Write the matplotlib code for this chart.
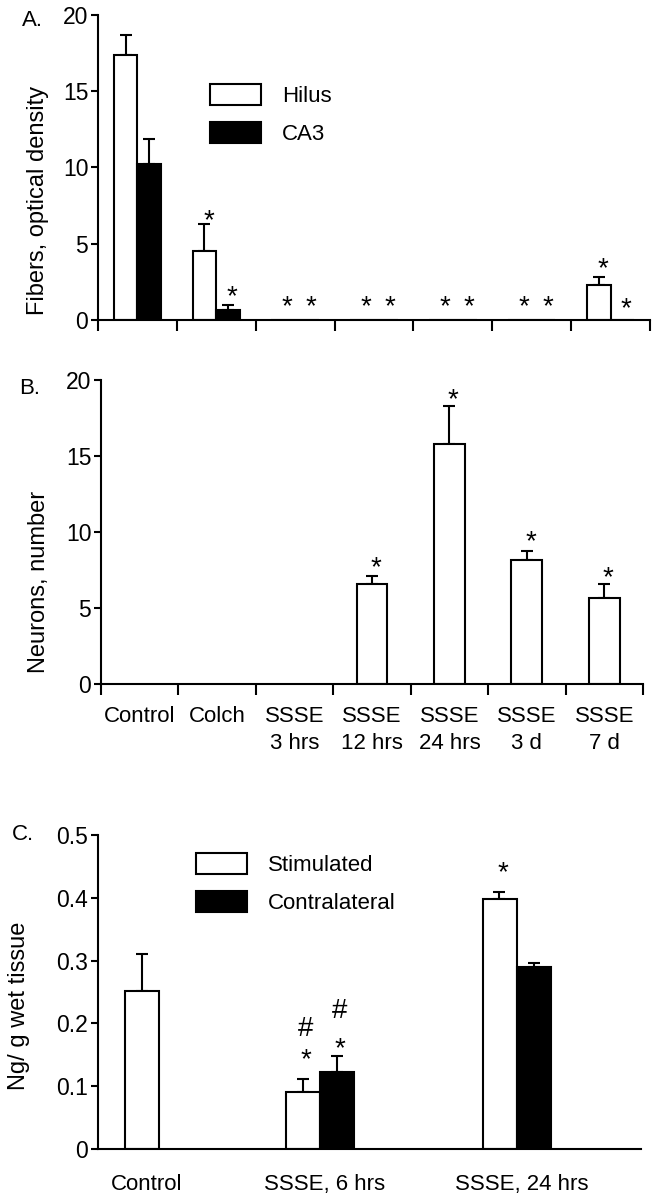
import numpy as np
import matplotlib
matplotlib.use("Agg")
import matplotlib.pyplot as plt

plt.rcParams['font.family'] = ['Liberation Sans', 'DejaVu Sans']
plt.rcParams['font.size'] = 16
plt.rcParams['axes.linewidth'] = 1.5
plt.rcParams['xtick.major.width'] = 1.5
plt.rcParams['ytick.major.width'] = 1.5
plt.rcParams['ytick.labelsize'] = 16.5

# panel A: fibers, optical density
groups_ab = ['Control', 'Colch', 'SSSE\n3 hrs', 'SSSE\n12 hrs', 'SSSE\n24 hrs', 'SSSE\n3 d', 'SSSE\n7 d']
hilus = [17.4, 4.5, 0, 0, 0, 0, 2.3]
hilus_err = [1.3, 1.8, 0, 0, 0, 0, 0.5]
ca3 = [10.2, 0.65, 0, 0, 0, 0, 0]
ca3_err = [1.7, 0.35, 0, 0, 0, 0, 0]
hilus_star = [np.nan, 7.1, 1.45, 1.45, 1.45, 1.45, 3.9]
ca3_star = [np.nan, 2.1, 1.45, 1.45, 1.45, 1.45, 1.3]

# panel B: neurons, number
neurons = [0, 0, 0, 6.6, 15.8, 8.15, 5.65]
neurons_err = [0, 0, 0, 0.5, 2.5, 0.6, 0.95]
neurons_star = [np.nan, np.nan, np.nan, 8.2, 19.3, 9.9, 7.55]

# panel C: ng/g wet tissue
groups_c = ['Control', 'SSSE, 6 hrs', 'SSSE, 24 hrs']
group_pos_c = [0.44, 2.215, 4.185]
stim = [0.252, 0.091, 0.398]
stim_err = [0.058, 0.02, 0.011]
contra = [np.nan, 0.123, 0.29]
contra_err = [np.nan, 0.025, 0.006]
stim_marks = ['', '#\n*', '*']
contra_marks = ['', '#\n*', '']

W, H = 657, 1199
fig = plt.figure(figsize=(W / 100, H / 100), dpi=100)


def px_axes(l, t, r, b):
    ax = fig.add_axes([l / W, 1 - b / H, (r - l) / W, (b - t) / H])
    ax.spines['top'].set_visible(False)
    ax.spines['right'].set_visible(False)
    ax.tick_params(axis='y', direction='out', length=5, pad=2)
    return ax


def fig_text(x, y, s, **kw):
    fig.text(x / W, 1 - y / H, s, **kw)


def star(ax, x, y, s, size=20):
    # y is where the glyph centre should land
    off = 0.58 if s == '*' else 0.36
    ax.annotate(s, (x, y), xytext=(0, -off * size), textcoords='offset points',
                ha='center', va='baseline', fontsize=size)


def upper_err(ax, x, y, e):
    x, y, e = np.asarray(x, float), np.asarray(y, float), np.asarray(e, float)
    m = np.nan_to_num(e) > 0
    ax.errorbar(x[m], y[m], yerr=[np.zeros(m.sum()), e[m]], fmt='none', ecolor='black',
                elinewidth=1.5, capsize=4, capthick=1.5, zorder=1)


bar_kw = dict(edgecolor='black', linewidth=1.5, zorder=2)
idx = np.arange(7) + 0.5

# ---------- A ----------
axA = px_axes(98, 15, 650, 320)
bw = 0.3
hA = axA.bar(idx - bw / 2, hilus, bw, color='white', label='Hilus', **bar_kw)
cA = axA.bar(idx + bw / 2, ca3, bw, color='black', label='CA3', **bar_kw)
upper_err(axA, idx - bw / 2, hilus, hilus_err)
upper_err(axA, idx + bw / 2, ca3, ca3_err)
for i in range(7):
    if not np.isnan(hilus_star[i]):
        star(axA, idx[i] - bw / 2 + 0.05, hilus_star[i], '*')
    if not np.isnan(ca3_star[i]):
        star(axA, idx[i] + bw / 2 + 0.05, ca3_star[i], '*')
axA.set_xlim(0, 7)
axA.set_ylim(0, 20)
axA.set_yticks([0, 5, 10, 15, 20])
axA.set_xticks(np.arange(8))
axA.set_xticklabels([])
axA.tick_params(axis='x', direction='out', length=8)
axA.legend(handles=[hA, cA], loc='upper left', bbox_to_anchor=(210 / W, 1 - 84 / H),
           bbox_transform=fig.transFigure, frameon=False, borderpad=0, borderaxespad=0,
           handlelength=2.3, handleheight=1.05, handletextpad=0.95, labelspacing=0.7, fontsize=16)
fig_text(38, 200, 'Fibers, optical density', rotation=90, ha='center', va='center', fontsize=17)
fig_text(32, 21, 'A.', ha='center', va='center', fontsize=16)

# ---------- B ----------
axB = px_axes(101, 380, 643, 684)
bwB = 0.4
nz = np.array(neurons) > 0
axB.bar(idx[nz], np.array(neurons)[nz], bwB, color='white', **bar_kw)
upper_err(axB, idx, neurons, neurons_err)
for i in range(7):
    if not np.isnan(neurons_star[i]):
        star(axB, idx[i] + 0.05, neurons_star[i], '*')
axB.set_xlim(0, 7)
axB.set_ylim(0, 20)
axB.set_yticks([0, 5, 10, 15, 20])
axB.set_xticks(np.arange(8))
axB.set_xticklabels([])
axB.tick_params(axis='x', which='major', direction='out', length=8)
axB.set_xticks(idx, minor=True)
axB.set_xticklabels(groups_ab, minor=True, linespacing=1.35)
axB.tick_params(axis='x', which='minor', length=0, pad=16)
fig_text(39, 582, 'Neurons, number', rotation=90, ha='center', va='center', fontsize=17)
fig_text(30, 388, 'B.', ha='center', va='center', fontsize=16)

# ---------- C ----------
axC = px_axes(98, 835, 641, 1149)
bwC = 0.34
gp = np.array(group_pos_c)
has_contra = ~np.isnan(contra)
stim_x = np.where(has_contra, gp - bwC / 2, gp)
contra_x = gp + bwC / 2
sC = axC.bar(stim_x, stim, bwC, color='white', label='Stimulated', **bar_kw)
kC = axC.bar(contra_x[has_contra], np.array(contra)[has_contra], bwC, color='black',
             label='Contralateral', **bar_kw)
upper_err(axC, stim_x, stim, stim_err)
upper_err(axC, contra_x, contra, contra_err)
for i in range(3):
    if stim_marks[i]:
        top = stim[i] + stim_err[i] + 0.045
        for j, ch in enumerate(reversed(stim_marks[i].split('\n'))):
            star(axC, stim_x[i] + 0.03, top + j * 0.04, ch)
    if contra_marks[i]:
        top = contra[i] + contra_err[i] + 0.026
        for j, ch in enumerate(reversed(contra_marks[i].split('\n'))):
            star(axC, contra_x[i] + 0.03, top + j * 0.05, ch)
axC.set_xlim(0, 5.43)
axC.set_ylim(0, 0.5)
axC.set_yticks([0, 0.1, 0.2, 0.3, 0.4, 0.5])
axC.set_yticklabels(['0', '0.1', '0.2', '0.3', '0.4', '0.5'])
axC.set_xticks(gp + 0.05)
axC.set_xticklabels(groups_c)
axC.tick_params(axis='x', length=0, pad=18)
axC.legend(handles=[sC, kC], loc='upper left', bbox_to_anchor=(196 / W, 1 - 853 / H),
           bbox_transform=fig.transFigure, frameon=False, borderpad=0, borderaxespad=0,
           handlelength=2.3, handleheight=1.05, handletextpad=0.95, labelspacing=0.7, fontsize=16)
fig_text(19, 1006, 'Ng/ g wet tissue', rotation=90, ha='center', va='center', fontsize=17)
fig_text(23, 835, 'C.', ha='center', va='center', fontsize=16)

fig.savefig('out.png', dpi=100)
